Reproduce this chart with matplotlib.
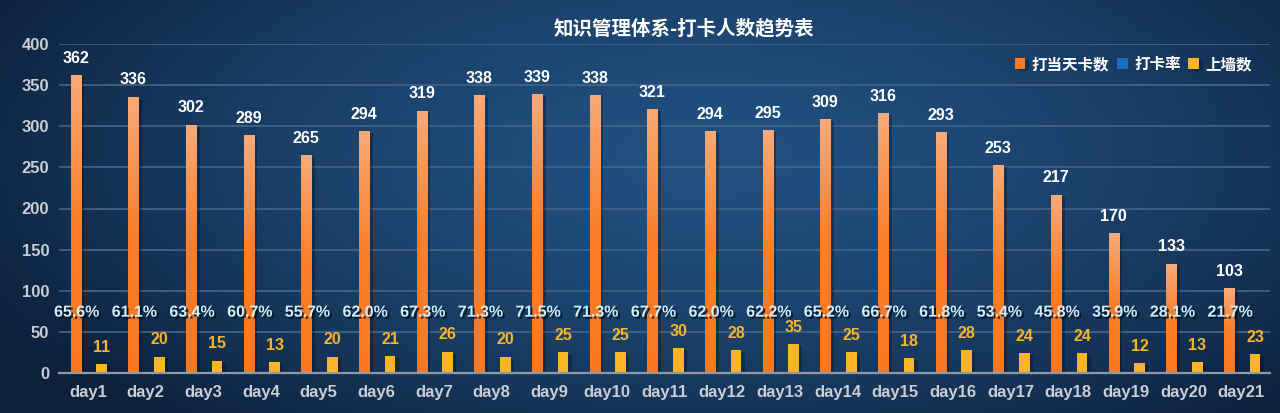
import numpy as np
import matplotlib
matplotlib.use("Agg")
import matplotlib.pyplot as plt
import matplotlib.patheffects as pe
from matplotlib.colors import LinearSegmentedColormap, to_rgb

days = [f"day{i}" for i in range(1, 22)]
checkins = [362, 336, 302, 289, 265, 294, 319, 338, 339, 338, 321, 294, 295, 309, 316, 293, 253, 217, 170, 133, 103]
rate_pct = [65.6, 61.1, 63.4, 60.7, 55.7, 62.0, 67.3, 71.3, 71.5, 71.3, 67.7, 62.0, 62.2, 65.2, 66.7, 61.8, 53.4, 45.8, 35.9, 28.1, 21.7]
wall = [11, 20, 15, 13, 20, 21, 26, 20, 25, 25, 30, 28, 35, 25, 18, 28, 24, 24, 12, 13, 23]
series_names = ["打当天卡数", "打卡率", "上墙数"]
title = "知识管理体系-打卡人数趋势表"
yticks = [0, 50, 100, 150, 200, 250, 300, 350, 400]

NUM_FONT = ["Liberation Sans", "DejaVu Sans"]
CJK_FONT = ["Noto Sans CJK SC", "DejaVu Sans"]

fig = plt.figure(figsize=(12.8, 4.13), dpi=100)

# background gradient
bg = fig.add_axes([0, 0, 1, 1])
bg.set_axis_off()
H, W = 413, 1280
yy, xx = np.mgrid[0:H, 0:W]
d = np.sqrt(((xx / W - 0.55) / 0.62) ** 2 + ((yy / H - 0.38) / 0.85) ** 2)
d = np.clip(d, 0, 1)
c_in = np.array(to_rgb("#21507f"))
c_out = np.array(to_rgb("#0d213d"))
img = c_in[None, None, :] * (1 - d[..., None] ** 1.6) + c_out[None, None, :] * (d[..., None] ** 1.6)
bg.imshow(img, aspect="auto", extent=[0, 1, 0, 1], origin="upper")
bg.set_xlim(0, 1); bg.set_ylim(0, 1)

ax = fig.add_axes([59 / 1280, 40 / 413, (1270 - 59) / 1280, (373 - 44) / 413])
ax.patch.set_alpha(0)

x = np.arange(len(days))
w = 0.18
off_o, off_b, off_y = -0.21, 0.01, 0.24

shadow = [pe.SimplePatchShadow(offset=(2.5, -1.5), shadow_rgbFace="#000814", alpha=0.3), pe.Normal()]

bars_o = ax.bar(x + off_o, checkins, w, color="#f97c25", zorder=3, path_effects=shadow, label=series_names[0])
bars_b = ax.bar(x + off_b, [r / 100 for r in rate_pct], w, color="#1a6cc4", zorder=3, label=series_names[1])
bars_y = ax.bar(x + off_y, wall, w, color="#fbb426", zorder=3, path_effects=shadow, label=series_names[2])

# orange gradient overlay
cmap = LinearSegmentedColormap.from_list("og", [(0, "#fb7820"), (0.5, "#fb7e28"), (1.0, "#f8aa7a")])
grad = np.linspace(0, 1, 256).reshape(-1, 1)
for b in bars_o:
    x0, y0 = b.get_x(), b.get_y()
    bw, bh = b.get_width(), b.get_height()
    im = ax.imshow(grad, cmap=cmap, aspect="auto", origin="lower",
                   extent=[x0, x0 + bw, y0, y0 + bh], zorder=3.5)
    im.set_clip_path(b)

ax.set_xlim(-0.5, len(days) - 0.5)
ax.set_ylim(0, 400)
ax.set_yticks(yticks)
ax.set_xticks(x)
ax.set_xticklabels(days)

ax.grid(axis="y", color="#45658a", linewidth=1.2, zorder=0)
ax.set_axisbelow(True)
for s in ["top", "right", "left"]:
    ax.spines[s].set_visible(False)
ax.spines["bottom"].set_color("#8e9aa8")
ax.spines["bottom"].set_linewidth(1.6)
ax.spines["bottom"].set_zorder(4)
ax.tick_params(axis="both", length=0, colors="#c9cdd3")
ax.tick_params(axis="x", pad=9)
ax.tick_params(axis="y", pad=7)
for lab in ax.get_xticklabels() + ax.get_yticklabels():
    lab.set_fontfamily(NUM_FONT)
    lab.set_fontweight("bold")
    lab.set_fontsize(12)

# labels
for xi, v in zip(x, checkins):
    ax.annotate(str(v), (xi + off_o, v), xytext=(0, 12), textcoords="offset points",
                ha="center", va="center", color="white", fontsize=11.5, fontweight="bold",
                family=NUM_FONT, zorder=6)
for xi, v in zip(x, wall):
    ax.annotate(str(v), (xi + off_y, v), xytext=(0, 12), textcoords="offset points",
                ha="center", va="center", color="#f7b52a", fontsize=11.5, fontweight="bold",
                family=NUM_FONT, zorder=6)
txt_shadow = [pe.withSimplePatchShadow(offset=(1.5, -1.5), shadow_rgbFace="#04101e", alpha=0.8)]
for xi, r in zip(x, rate_pct):
    ax.text(xi - 0.19, 74, f"{r:.1f}%", ha="center", va="center", color="#cdeefa",
            fontsize=11.5, fontweight="bold", family=NUM_FONT, zorder=7, path_effects=txt_shadow)

fig.text(684 / 1280, 1 - 29 / 413, title, ha="center", va="center", color="white",
         fontsize=14, fontweight="bold", family=CJK_FONT)

leg = fig.legend(handles=[bars_o, bars_b, bars_y], labels=series_names, loc="center right",
                 bbox_to_anchor=(1266 / 1280, 1 - 64 / 413), ncol=3, frameon=False,
                 handlelength=0.7, handleheight=0.7, handletextpad=0.4, columnspacing=0.5,
                 prop={"family": CJK_FONT, "weight": "bold", "size": 11.2})
for t in leg.get_texts():
    t.set_color("white")

fig.savefig("out.png", dpi=100)
